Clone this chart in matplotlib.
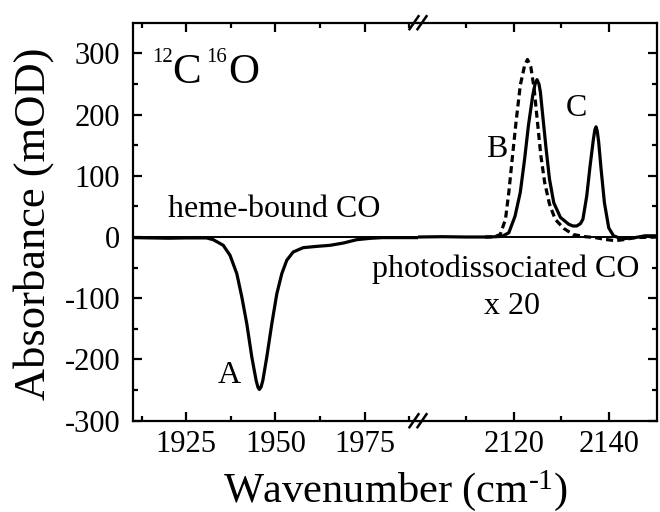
import matplotlib
matplotlib.use('Agg')
import matplotlib.pyplot as plt
from matplotlib.lines import Line2D

plt.rcParams['font.family'] = ['Liberation Serif', 'DejaVu Serif']
plt.rcParams['mathtext.fontset'] = 'custom'
plt.rcParams['mathtext.rm'] = 'Liberation Serif'
plt.rcParams['mathtext.it'] = 'Liberation Serif:italic'
plt.rcParams['axes.unicode_minus'] = False

# ---------------- data ----------------
# heme-bound CO band (left segment)
heme_wn = [1910, 1915, 1920, 1925, 1930.7, 1932.6, 1935.4, 1937.3, 1939.2, 1940.6,
           1942.0, 1943.4, 1944.6, 1945.1, 1945.5, 1946.0, 1946.5, 1947.6, 1949.0, 1950.4,
           1951.8, 1953.2, 1955.0, 1957.8, 1961.6, 1965.3, 1969.1, 1972.8, 1976.5, 1980,
           1985, 1990]
heme_abs = [-1, -1.5, -2, -1.5, -1.5, -4.4, -13.6, -30, -60, -98,
            -142, -196, -234, -245, -249, -245, -234, -196, -142, -93,
            -60, -38, -24.5, -17.4, -15.3, -13.6, -9.8, -4.4, -2.2, -1,
            -1, -1]

# photodissociated CO x 20 (solid, right segment)
photo_wn = [2100, 2105, 2110, 2114.8, 2117.6, 2119.0, 2120.3, 2121.4, 2122.3, 2123.1,
            2124.0, 2124.5, 2124.9, 2125.3, 2125.6, 2126.1, 2126.8, 2127.5, 2128.4, 2129.8,
            2131.5, 2132.4, 2133.2, 2134.0, 2134.5, 2135.3, 2136.0, 2136.7, 2137.0, 2137.25,
            2137.5, 2137.8, 2138.3, 2139.0, 2139.9, 2140.9, 2142.6, 2145.4, 2147.5, 2150]
photo_abs = [0, 0.5, 0, 0, 1, 7, 34, 73, 127, 182,
             231, 250, 257, 250, 237, 198, 144, 95, 56, 32,
             21, 18, 18, 22, 29, 67, 116, 160, 175, 180,
             173, 155, 111, 56, 15, 2, -3, -1, 2, 2]

# photodissociated CO (dashed, right segment)
dashed_wn = [2114, 2116, 2117.2, 2118.3, 2119.0, 2119.7, 2120.5, 2121.4, 2122.3, 2122.9,
             2123.6, 2124.3, 2125.0, 2125.7, 2126.5, 2127.5, 2128.7, 2130.5, 2132.5, 2135.0,
             2137.1, 2139.2, 2141.3, 2143.3, 2145.4, 2150]
dashed_abs = [0, 0.5, 4, 29, 73, 127, 187, 248, 280, 290,
              278, 242, 187, 133, 89, 54, 29, 14, 4, 0.5,
              -1, -4, -6, -4, -1, 0]

x_left_lim = (1910, 1990)
x_right_lim = (2100, 2150)
y_lim = (-300, 350)
left_major = [1925, 1950, 1975]
left_minor = [1912.5, 1937.5, 1962.5, 1987.5]
right_major = [2120, 2140]
right_minor = [2110, 2130]
y_major = [-300, -200, -100, 0, 100, 200, 300]
y_minor = [-250, -150, -50, 50, 150, 250]

# ---------------- figure ----------------
W, H = 660, 512
fig = plt.figure(figsize=(W / 100, H / 100), dpi=100)


def fx(px):
    return px / W


def fy(py):
    return 1 - py / H


L, R, T, B, BRK = 132.7, 657.0, 22.7, 420.7, 418.0
ax1 = fig.add_axes([fx(L), fy(B), fx(BRK) - fx(L), fy(T) - fy(B)])
ax2 = fig.add_axes([fx(BRK), fy(B), fx(R) - fx(BRK), fy(T) - fy(B)])

LW_CURVE = 2.3
for ax in (ax1, ax2):
    ax.axhline(0, color='black', lw=1.4, zorder=1)
    ax.set_ylim(*y_lim)
    ax.set_yticks(y_major)
    ax.set_yticks(y_minor, minor=True)
    for s in ax.spines.values():
        s.set_linewidth(1.6)
    ax.tick_params(which='both', direction='in', width=1.6, top=True, bottom=True,
                   labelsize=22, pad=7)
    ax.tick_params(which='major', length=6.5)
    ax.tick_params(which='minor', length=3.8)

ax1.plot(heme_wn, heme_abs, color='black', lw=LW_CURVE, zorder=3,
         solid_joinstyle='round')
ax1.set_xlim(*x_left_lim)
ax1.set_xticks(left_major)
ax1.set_xticks(left_minor, minor=True)
ax1.spines['right'].set_visible(False)
ax1.tick_params(which='both', left=True, right=False)
ax1.tick_params(axis='y', pad=9)

ax2.plot(photo_wn, photo_abs, color='black', lw=LW_CURVE, zorder=3,
         solid_joinstyle='round')
ax2.plot(dashed_wn, dashed_abs, color='black', lw=LW_CURVE, ls=(0, (2.2, 1.3)), zorder=3)
ax2.set_xlim(*x_right_lim)
ax2.set_xticks(right_major)
ax2.set_xticks(right_minor, minor=True)
ax2.spines['left'].set_visible(False)
ax2.tick_params(which='both', left=False, right=True, labelleft=False)

# break marks
for ybase in (T, B):
    for xc in (414.0, 422.0):
        fig.add_artist(Line2D([fx(xc - 4.5), fx(xc + 4.5)], [fy(ybase + 6.5), fy(ybase - 6.5)],
                              color='black', lw=1.8, transform=fig.transFigure))

# axis labels
fig.text(fx(34), fy(224), 'Absorbance (mOD)', rotation=90, ha='center', va='center',
         fontsize=32)
fig.text(fx(395), fy(502), r'Wavenumber (cm$^{\mathregular{\text{-1}}}$)', ha='center',
         va='baseline', fontsize=30.5)

# isotope label
fig.text(fx(152), fy(61.5), '12', fontsize=15, ha='left', va='baseline')
fig.text(fx(172), fy(83.3), 'C', fontsize=31, ha='left', va='baseline')
fig.text(fx(206), fy(61.5), '16', fontsize=15, ha='left', va='baseline')
fig.text(fx(228), fy(83.3), 'O', fontsize=31, ha='left', va='baseline')

# annotations
ANN = 23
fig.text(fx(274), fy(217), 'heme-bound CO', fontsize=ANN, ha='center', va='baseline')
fig.text(fx(506), fy(277), 'photodissociated CO', fontsize=ANN, ha='center', va='baseline')
fig.text(fx(512), fy(314), 'x 20', fontsize=ANN, ha='center', va='baseline')
fig.text(fx(229.5), fy(383.3), 'A', fontsize=ANN, ha='center', va='baseline')
fig.text(fx(497), fy(157), 'B', fontsize=ANN, ha='center', va='baseline')
fig.text(fx(576.5), fy(115.5), 'C', fontsize=ANN, ha='center', va='baseline')

fig.savefig('out.png', dpi=100)
